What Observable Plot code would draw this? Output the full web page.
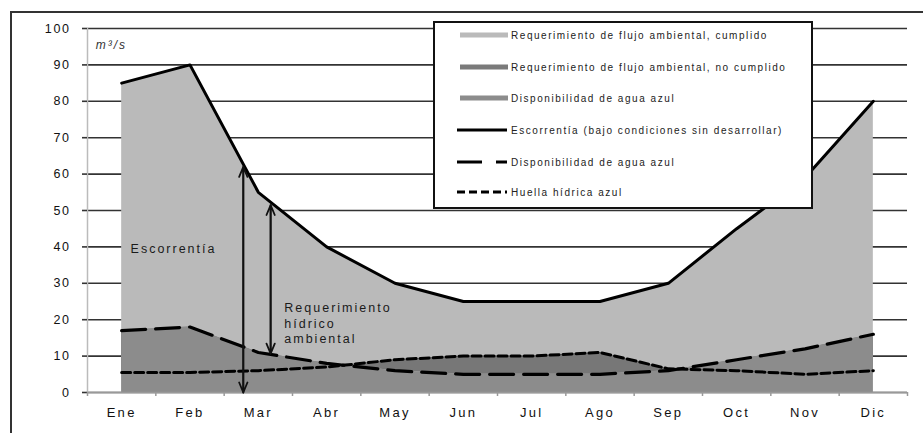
<!DOCTYPE html>
<html>
<head>
<meta charset="utf-8">
<script src="https://cdn.jsdelivr.net/npm/d3@7"></script>
<script src="https://cdn.jsdelivr.net/npm/@observablehq/plot@0.6"></script>
<style>
  body { margin: 0; background: #fff; }
  #wrap { position: relative; width: 923px; height: 439px; overflow: hidden; font-family: "Liberation Sans", Arial, sans-serif; }
  #frame { position: absolute; left: 10px; top: 11px; width: 930px; height: 420px; border-top: 2px solid #333; border-left: 2px solid #333; }
  #chart { position: absolute; left: 0; top: 0; }
  #legend { position: absolute; left: 433px; top: 21px; width: 376px; height: 184px; border: 2px solid #111; background: #fff; }
  .row { position: absolute; left: 0; height: 14px; display: flex; align-items: center; }
  .row svg { display: block; }
  .row span { font-size: 10px; letter-spacing: 1.55px; color: #222; margin-left: 3px; white-space: nowrap; }
</style>
</head>
<body>
<div id="wrap">
  <div id="frame"></div>
  <div id="chart"></div>
  <div id="legend"></div>
</div>
<script>
// ---- data ----
const months = ["Ene","Feb","Mar","Abr","May","Jun","Jul","Ago","Sep","Oct","Nov","Dic"];
const escorrentia    = [85, 90, 55, 40, 30, 25, 25, 25, 30, 45, 59, 80];
const disponibilidad = [17, 18, 11, 8, 6, 5, 5, 5, 6, 9, 12, 16];
const huella         = [5.5, 5.5, 6, 7, 9, 10, 10, 11, 6.5, 6, 5, 6];
const yTicks = [0, 10, 20, 30, 40, 50, 60, 70, 80, 90, 100];
const legendLabels = [
  "Requerimiento de flujo ambiental, cumplido",
  "Requerimiento de flujo ambiental, no cumplido",
  "Disponibilidad de agua azul",
  "Escorrentía (bajo condiciones sin desarrollar)",
  "Disponibilidad de agua azul",
  "Huella hídrica azul"
];
// annotation arrows (month index, m3/s)
const arrowX  = [1.78, 2.18];
const arrowY1 = [0, 10.7];
const arrowY2 = [62, 51.5];
const notes = [
  {x: 0.13, y: 39.6, text: "Escorrentía"},
  {x: 2.38, y: 19.2, text: "Requerimiento\nhídrico\nambiental"}
];
const unitLabel = {x: -0.38, y: 95.3, text: "m³/s"};

const data = months.map((m, i) => ({i, m, esc: escorrentia[i], disp: disponibilidad[i], hue: huella[i]}));
const arrows = arrowX.map((x, k) => ({x, y1: arrowY1[k], y2: arrowY2[k]}));
const halfTicks = d3.range(-0.5, 12, 1);
const monthTicks = d3.range(0, 12);

const cLight = "#bababa", cDark = "#777777", cMid = "#8c8c8c";

const plot = Plot.plot({
  width: 923, height: 439,
  marginLeft: 87, marginRight: 16, marginTop: 28, marginBottom: 47,
  x: {type: "linear", domain: [-0.5, 11.5]},
  y: {domain: [0, 100]},
  style: {fontFamily: "Liberation Sans, Arial, sans-serif", background: "transparent", overflow: "visible"},
  marks: [
    Plot.ruleY(yTicks, {x1: -0.5, x2: 11.5, stroke: "#333", strokeWidth: 1.6}),
    Plot.areaY(data, {x: "i", y1: 0, y2: "esc", fill: cLight}),
    Plot.areaY(data, {x: "i", y1: "disp", y2: "hue", fill: cDark}),
    Plot.areaY(data, {x: "i", y1: 0, y2: "disp", fill: cMid}),
    Plot.ruleX([-0.5], {y1: 0, y2: 100, stroke: "#bbb", strokeWidth: 1.5}),
    Plot.ruleY([0], {x1: -0.5, x2: 11.5, stroke: "#999", strokeWidth: 1.5}),
    Plot.axisY({ticks: yTicks, tickSize: 5, tickPadding: 12, stroke: "#333", strokeWidth: 1.6, fill: "#111", fontSize: 12.5, label: null}),
    Plot.axisX({ticks: halfTicks, tickSize: 4, tickFormat: () => "", stroke: "#999", strokeWidth: 1.5, label: null}),
    Plot.axisX({ticks: monthTicks, tickSize: 0, tickPadding: 15, tickFormat: i => months[i], fill: "#111", fontSize: 13, label: null}),
    Plot.line(data, {x: "i", y: "hue", stroke: "#000", strokeWidth: 3, strokeDasharray: "9,4"}),
    Plot.line(data, {x: "i", y: "disp", stroke: "#000", strokeWidth: 3.2, strokeDasharray: "24,10"}),
    Plot.line(data, {x: "i", y: "esc", stroke: "#000", strokeWidth: 3}),
    Plot.arrow(arrows, {x1: "x", x2: "x", y1: "y1", y2: "y2", stroke: "#111", strokeWidth: 1.8, headLength: 9, headAngle: 45}),
    Plot.arrow(arrows, {x1: "x", x2: "x", y1: "y2", y2: "y1", stroke: "#111", strokeWidth: 1.8, headLength: 9, headAngle: 45}),
    Plot.text(notes, {x: "x", y: "y", text: "text", textAnchor: "start", fontSize: 12.5, lineHeight: 1.25, fill: "#1a1a1a", className: "note"}),
    Plot.text([unitLabel], {x: "x", y: "y", text: "text", textAnchor: "start", fontSize: 12, fontStyle: "italic", fill: "#333", className: "note"})
  ]
});
document.getElementById("chart").appendChild(plot);
d3.select(plot).selectAll('g[aria-label="y-axis tick label"] text').style("letter-spacing", "1.6px");
d3.select(plot).selectAll('g[aria-label="x-axis tick label"] text').style("letter-spacing", "2.3px");
d3.select(plot).selectAll('.note text').style("letter-spacing", "2px");

// ---- legend ----
const legendSwatches = [
  {type: "bar", color: cLight},
  {type: "bar", color: "#7a7a7a"},
  {type: "bar", color: cMid},
  {type: "line", dash: null},
  {type: "line", dash: "25,14,11,0"},
  {type: "line", dash: "8,4"}
];
const rowY = [12, 44, 75, 107, 139, 169];
const legend = d3.select("#legend");
legendLabels.forEach((lab, k) => {
  const row = legend.append("div").attr("class", "row").style("top", (rowY[k] - 7) + "px").style("left", "22px");
  const sw = legendSwatches[k];
  const svg = row.append("svg").attr("width", 51).attr("height", 14);
  if (sw.type === "bar") {
    svg.append("line").attr("x1", 3).attr("x2", 51).attr("y1", 7).attr("y2", 7)
      .attr("stroke", sw.color).attr("stroke-width", 5);
  } else {
    svg.append("line").attr("x1", 0).attr("x2", 50).attr("y1", 7).attr("y2", 7)
      .attr("stroke", "#000").attr("stroke-width", 3.2)
      .attr("stroke-dasharray", sw.dash);
  }
  row.append("span").text(lab);
});
</script>
</body>
</html>
